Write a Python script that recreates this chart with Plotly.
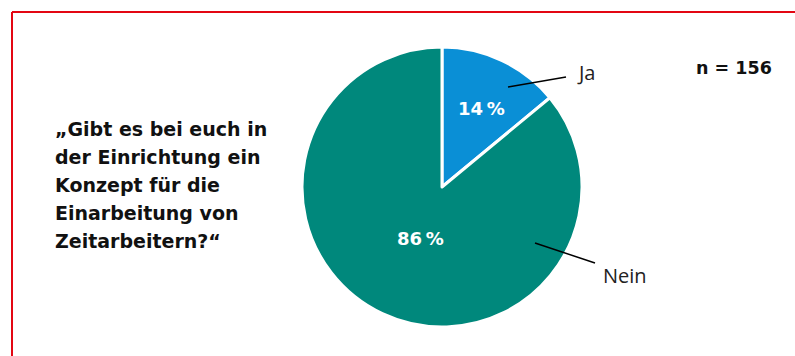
import plotly.graph_objects as go
import math

labels = ["Ja", "Nein"]
values = [14, 86]
colors = ["#0a8fd6", "#00887c"]
question_lines = ["„Gibt es bei euch in", "der Einrichtung ein", "Konzept für die",
                  "Einarbeitung von", "Zeitarbeitern?“"]
sample_note = "n = 156"

W, H = 795, 356
cx, cy, R = 442, 187, 140

def px(x):
    return x / W

def py(y):
    return 1 - y / H

fig = go.Figure(go.Pie(
    labels=labels, values=values, sort=False, direction="clockwise", rotation=0,
    marker=dict(colors=colors, line=dict(color="white", width=3)),
    textinfo="none", hoverinfo="label+percent", showlegend=False,
    domain=dict(x=[px(cx - R), px(cx + R)], y=[py(cy + R), py(cy - R)]),
))

font = "Open Sans"
bold_font = "DejaVu Sans"
ann = []
shapes = []
total = sum(values)
cum = 0
inner_r = [0.62, 0.41]
leader = [((508, 87), (566, 77), (575, 72)), ((535, 243), (595, 263), (601, 275))]
for i, v in enumerate(values):
    mid = (cum + v / 2) / total * 2 * math.pi
    cum += v
    x = cx + inner_r[i] * R * math.sin(mid) + 3
    y = cy - inner_r[i] * R * math.cos(mid)
    ann.append(dict(x=px(x), y=py(y), xref="paper", yref="paper", showarrow=False,
                    xanchor="center", yanchor="middle",
                    text=f"<b>{round(v / total * 100)}\u202f%</b>",
                    font=dict(family=bold_font, size=18, color="white")))
    (x0, y0), (x1, y1), (tx, ty) = leader[i]
    shapes.append(dict(type="line", xref="paper", yref="paper",
                       x0=px(x0), y0=py(y0), x1=px(x1), y1=py(y1),
                       line=dict(color="black", width=1.5)))
    ann.append(dict(x=px(tx), y=py(ty), xref="paper", yref="paper", showarrow=False,
                    xanchor="left", yanchor="middle", text=labels[i],
                    font=dict(family=font, size=20, color="#222222")))

for k, line in enumerate(question_lines):
    ann.append(dict(x=px(53), y=py(129 + 28 * k), xref="paper", yref="paper",
                    showarrow=False, xanchor="left", yanchor="middle",
                    text=f"<b>{line}</b>",
                    font=dict(family=bold_font, size=19, color="#111111")))

ann.append(dict(x=px(774), y=py(68), xref="paper", yref="paper", showarrow=False,
                xanchor="right", yanchor="middle", text=f"<b>{sample_note}</b>",
                font=dict(family=bold_font, size=17.5, color="#111111")))

shapes.append(dict(type="line", xref="paper", yref="paper", x0=px(12), y0=py(12),
                   x1=1.01, y1=py(12), line=dict(color="#e30613", width=2)))
shapes.append(dict(type="line", xref="paper", yref="paper", x0=px(12), y0=py(12),
                   x1=px(12), y1=-0.01, line=dict(color="#e30613", width=2)))

fig.update_layout(width=W, height=H, margin=dict(l=0, r=0, t=0, b=0),
                  paper_bgcolor="white", plot_bgcolor="white",
                  annotations=ann, shapes=shapes)
fig.write_html("out.html")
